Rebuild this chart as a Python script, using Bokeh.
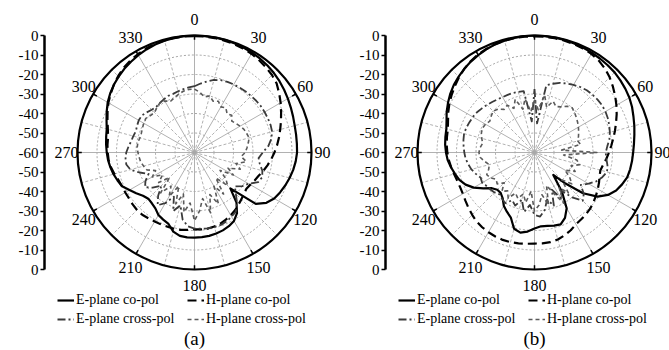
import numpy as np
from bokeh.plotting import figure
from bokeh.models import LinearAxis, FixedTicker, Range1d, Legend, LegendItem
from bokeh.layouts import row
from bokeh.embed import file_html
from bokeh.resources import INLINE
from bokeh.core.properties import value

# ---------------- data (dB, angle in degrees, 0 at top, clockwise) ----------------
ANGLES = list(range(0, 360, 5))

E_CO_A = [0.0, -0.1, -0.1, -0.2, -0.4, -0.6, -0.9, -1.3, -1.8, -2.4, -3.1, -3.9,
          -4.7, -5.5, -6.2, -6.8, -7.1, -7.3, -7.4, -7.9, -8.6, -9.5, -10.5, -11.6,
          -12.8, -15.0, -19.0, -34.0, -26.5, -22.0, -19.5, -18.3, -17.5, -17.0, -16.6, -16.4,
          -16.3, -16.3, -16.6, -18.0, -21.0, -22.0, -23.0, -25.0, -26.0, -26.5, -25.5, -23.5,
          -21.5, -19.0, -18.0, -17.0, -16.2, -15.5, -15.0, -14.5, -14.0, -13.4, -12.0, -10.3,
          -8.6, -7.2, -6.0, -5.0, -4.0, -3.2, -2.4, -1.7, -1.1, -0.6, -0.3, -0.1]

H_CO_A = [-0.3, -0.3, -0.4, -0.6, -0.8, -1.1, -1.5, -2.2, -3.0, -3.8, -5.0, -7.0,
          -9.0, -11.0, -12.8, -14.5, -16.0, -17.5, -19.0, -20.5, -22.0, -23.5, -25.0, -26.0,
          -27.0, -27.5, -27.0, -26.0, -25.0, -23.8, -22.8, -22.0, -21.2, -20.7, -20.4, -20.4,
          -20.6, -20.2, -19.7, -19.5, -19.5, -19.3, -19.2, -18.8, -18.3, -18.3, -18.6, -19.0,
          -19.0, -19.0, -18.5, -17.5, -16.5, -15.8, -15.5, -15.2, -15.0, -14.0, -12.5, -10.8,
          -9.0, -7.5, -6.0, -4.6, -3.4, -2.5, -1.8, -1.2, -0.8, -0.5, -0.4, -0.3]

E_X_A = [-26.0, -24.5, -23.0, -21.5, -20.5, -20.0, -19.7, -19.5, -19.2, -19.0, -18.7, -18.5,
         -18.5, -18.5, -18.5, -18.8, -20.0, -22.0, -25.0, -27.0, -26.0, -24.0, -23.0, -24.0,
         -28.0, -30.0, -33.0, -30.0, -26.0, -23.0, -22.0, -21.0, -20.5, -20.5, -20.5, -20.8,
         -21.0, -22.0, -25.0, -32.0, -28.0, -35.0, -30.0, -27.0, -31.0, -36.0, -32.0, -29.0,
         -31.0, -34.0, -30.0, -26.0, -24.5, -24.5, -25.0, -26.0, -27.0, -27.5, -28.0, -27.5,
         -27.0, -27.0, -28.0, -29.0, -29.5, -29.0, -28.5, -28.0, -28.0, -27.5, -27.0, -26.5]

H_X_A = [-27.5, -29.0, -31.0, -30.0, -32.0, -31.0, -33.0, -32.0, -34.0, -33.0, -35.0, -34.0,
         -33.0, -32.0, -31.5, -31.0, -32.0, -33.0, -34.0, -36.0, -33.0, -38.0, -35.0, -41.0,
         -37.0, -44.0, -39.0, -36.0, -43.0, -34.0, -40.0, -31.0, -37.0, -28.0, -36.0, -30.0,
         -25.0, -34.0, -29.0, -38.0, -32.0, -41.0, -34.0, -39.0, -33.0, -42.0, -36.0, -40.0,
         -35.0, -38.0, -34.0, -33.0, -32.0, -31.5, -31.0, -30.5, -30.5, -31.0, -31.0, -30.5,
         -30.0, -29.5, -30.5, -31.0, -30.0, -29.0, -29.5, -31.0, -30.0, -29.0, -28.0, -27.5]

E_CO_B = [0.0, -0.1, -0.2, -0.3, -0.5, -0.7, -1.0, -1.3, -1.6, -1.9, -2.5, -3.1,
          -3.8, -4.8, -6.0, -7.0, -8.0, -8.8, -9.4, -9.8, -10.2, -10.8, -12.2, -13.8,
          -16.5, -20.5, -27.5, -37.5, -45.0, -35.5, -27.0, -23.0, -20.8, -21.2, -21.8, -22.0,
          -21.0, -19.3, -18.3, -19.5, -24.5, -26.5, -28.5, -31.5, -33.0, -33.0, -31.5, -28.0,
          -24.0, -21.0, -19.0, -17.8, -16.5, -15.3, -14.6, -14.0, -13.6, -13.2, -12.0, -10.3,
          -8.8, -7.3, -6.0, -5.0, -4.0, -3.1, -2.3, -1.6, -1.0, -0.6, -0.3, -0.1]

H_CO_B = [-0.4, -0.4, -0.5, -0.6, -0.8, -1.1, -1.6, -2.5, -3.8, -5.5, -7.5, -9.5,
          -11.5, -13.5, -15.5, -17.3, -19.0, -20.5, -21.8, -23.0, -24.2, -25.0, -24.5, -23.5,
          -22.5, -21.5, -20.5, -19.5, -18.8, -18.2, -17.5, -16.0, -14.8, -13.8, -13.3, -13.2,
          -13.3, -13.0, -12.7, -12.4, -12.3, -12.5, -12.8, -13.2, -13.8, -14.8, -15.8, -16.8,
          -17.6, -17.9, -17.8, -17.3, -16.6, -15.9, -15.3, -14.8, -14.4, -14.0, -12.8, -11.2,
          -9.6, -8.2, -6.8, -5.3, -4.0, -2.9, -2.0, -1.4, -0.9, -0.6, -0.5, -0.4]

E_X_B = [-27.5, -45.0, -25.0, -23.5, -22.0, -21.0, -20.0, -19.0, -18.3, -18.0, -17.8, -17.7,
         -18.0, -18.5, -19.2, -20.0, -21.0, -22.5, -23.5, -23.0, -22.0, -21.5, -23.0, -25.0,
         -28.0, -31.0, -27.0, -25.0, -30.0, -36.0, -33.0, -39.0, -31.0, -35.0, -30.0, -27.0,
         -28.0, -33.0, -29.0, -35.0, -31.0, -33.0, -30.0, -31.0, -32.0, -31.0, -30.5, -30.0,
         -29.0, -29.5, -28.0, -26.5, -25.5, -24.5, -24.0, -23.5, -23.0, -22.6, -22.8, -23.2,
         -23.5, -24.0, -24.8, -25.5, -26.2, -26.8, -27.2, -27.4, -27.5, -27.8, -28.0, -44.0]

H_X_B = [-33.0, -38.0, -30.0, -36.0, -32.0, -34.0, -33.0, -31.0, -30.0, -31.0, -32.0, -33.0,
         -34.0, -35.0, -36.0, -37.0, -36.0, -46.0, -28.0, -45.0, -38.0, -36.0, -40.0, -37.0,
         -42.0, -38.0, -35.0, -40.0, -33.0, -38.0, -30.0, -37.0, -42.0, -32.0, -38.0, -33.0,
         -30.0, -40.0, -34.0, -38.0, -35.0, -37.0, -33.0, -36.0, -34.0, -38.0, -35.0, -36.0,
         -34.0, -33.0, -35.0, -36.0, -34.0, -32.0, -31.5, -32.0, -33.0, -32.0, -31.0, -30.5,
         -31.0, -32.0, -31.0, -30.0, -31.0, -33.0, -32.0, -35.0, -31.0, -37.0, -32.0, -39.0]

ANGLE_LABELS = [0, 30, 60, 90, 120, 150, 180, 210, 240, 270, 300, 330]
RADIAL_TICKS = [-60, -50, -40, -30, -20, -10, 0, 10, 20, 30, 40, 50, 60]
GRID_LEVELS = [-50, -40, -30, -20, -10]
LEGEND_LABELS = ["E-plane co-pol", "H-plane co-pol", "E-plane cross-pol", "H-plane cross-pol"]
CAPTIONS = ["(a)", "(b)"]

# ---------------- styling / geometry ----------------
FLOOR = 60.0          # dB below max mapped to centre
PX = 1.95             # pixels per dB
CY_PX = 152           # centre offset from top (px)
H = 350
SERIF = "Liberation Serif, Times New Roman, serif"

STYLES = [
    dict(line_color="black", line_width=2.2, line_dash="solid"),
    dict(line_color="black", line_width=2.2, line_dash="9 5"),
    dict(line_color="#3a3a3a", line_width=1.8, line_dash="8 3 2 3"),
    dict(line_color="#5a5a5a", line_width=1.6, line_dash="4 3"),
]


def to_xy(angles, db):
    th = np.radians(np.append(np.asarray(angles, float), angles[0]))
    r = np.clip(np.append(np.asarray(db, float), db[0]) + FLOOR, 0, None)
    return r * np.sin(th), r * np.cos(th)


def make_legend(items, x):
    lg = Legend(items=items, location=(x, 23), orientation="vertical")
    lg.glyph_width = 17
    lg.glyph_height = 14
    lg.label_standoff = 2
    lg.spacing = 2
    lg.padding = 0
    lg.margin = 0
    lg.label_height = 17
    lg.background_fill_alpha = 0
    lg.border_line_color = None
    lg.label_text_font = SERIF
    lg.label_text_font_size = "14px"
    lg.label_text_color = "black"
    return lg


def make_panel(series, caption, width, left, cx_px):
    frame_w = width - left
    p = figure(width=width, height=H,
               x_range=Range1d(-cx_px / PX, (frame_w - cx_px) / PX),
               y_range=Range1d(-(H - CY_PX) / PX, CY_PX / PX),
               output_backend="svg", toolbar_location=None,
               x_axis_location=None, y_axis_location=None,
               min_border_left=left, min_border_right=0,
               min_border_top=0, min_border_bottom=0)
    p.outline_line_color = None
    p.xgrid.visible = False
    p.ygrid.visible = False
    p.background_fill_color = "white"

    # radial scale axis on the left
    ax = LinearAxis(ticker=FixedTicker(ticks=RADIAL_TICKS), bounds=(-FLOOR, FLOOR),
                    major_label_overrides={t: str(abs(t) - 60) for t in RADIAL_TICKS})
    ax.axis_line_width = 2.5
    ax.axis_line_color = "black"
    ax.major_tick_in = 0
    ax.major_tick_out = 4
    ax.major_tick_line_width = 1.5
    ax.minor_tick_out = 0
    ax.minor_tick_in = 0
    ax.major_label_standoff = 2
    ax.major_label_text_font = SERIF
    ax.major_label_text_font_size = "15px"
    ax.major_label_text_color = "black"
    p.add_layout(ax, "left")

    # polar grid
    p.circle(x=[0] * len(GRID_LEVELS), y=[0] * len(GRID_LEVELS),
             radius=[lv + FLOOR for lv in GRID_LEVELS],
             fill_color=None, line_color="#9a9a9a", line_width=0.9, line_dash="2 2")
    spokes = np.arange(0, 360, 15)
    main = spokes[spokes % 30 == 0]
    minor = spokes[spokes % 30 != 0]
    for ang, dash in ((main, "solid"), (minor, "3 2")):
        t = np.radians(ang)
        p.segment(x0=np.zeros(len(t)), y0=np.zeros(len(t)),
                  x1=FLOOR * np.sin(t), y1=FLOOR * np.cos(t),
                  line_color="#a8a8a8", line_width=0.9, line_dash=dash)

    # data curves
    rends = []
    for db, st in zip(series, STYLES):
        x, y = to_xy(ANGLES, db)
        rends.append(p.line(x, y, line_join="round", **st))

    # outer circle and its ticks
    p.circle(x=[0], y=[0], radius=[FLOOR], fill_color=None, line_color="black", line_width=2.2)
    t = np.radians(ANGLE_LABELS)
    p.segment(x0=(FLOOR - 2.2) * np.sin(t), y0=(FLOOR - 2.2) * np.cos(t),
              x1=FLOOR * np.sin(t), y1=FLOOR * np.cos(t), line_color="black", line_width=1.5)

    # angle labels (slightly elliptical placement as in the original)
    p.text(x=(128 / PX) * np.sin(t), y=(133 / PX) * np.cos(t),
           text=[str(a) for a in ANGLE_LABELS],
           text_align="center", text_baseline="middle",
           text_font=value(SERIF), text_font_size="16px", text_color="black")

    # caption
    p.text(x=[0], y=[-(338 - CY_PX) / PX], text=[caption], text_align="center",
           text_baseline="middle", text_font=value(SERIF), text_font_size="19px",
           text_color="black")

    it = [LegendItem(label=lab, renderers=[r]) for lab, r in zip(LEGEND_LABELS, rends)]
    p.add_layout(make_legend([it[0], it[2]], 13))
    p.add_layout(make_legend([it[1], it[3]], 143))
    return p


pa = make_panel([E_CO_A, H_CO_A, E_X_A, H_X_A], CAPTIONS[0], 335, 44, 150)
pb = make_panel([E_CO_B, H_CO_B, E_X_B, H_X_B], CAPTIONS[1], 334, 50, 149)
layout = row(pa, pb, spacing=0)

open("out.html", "w").write(file_html(layout, INLINE))
